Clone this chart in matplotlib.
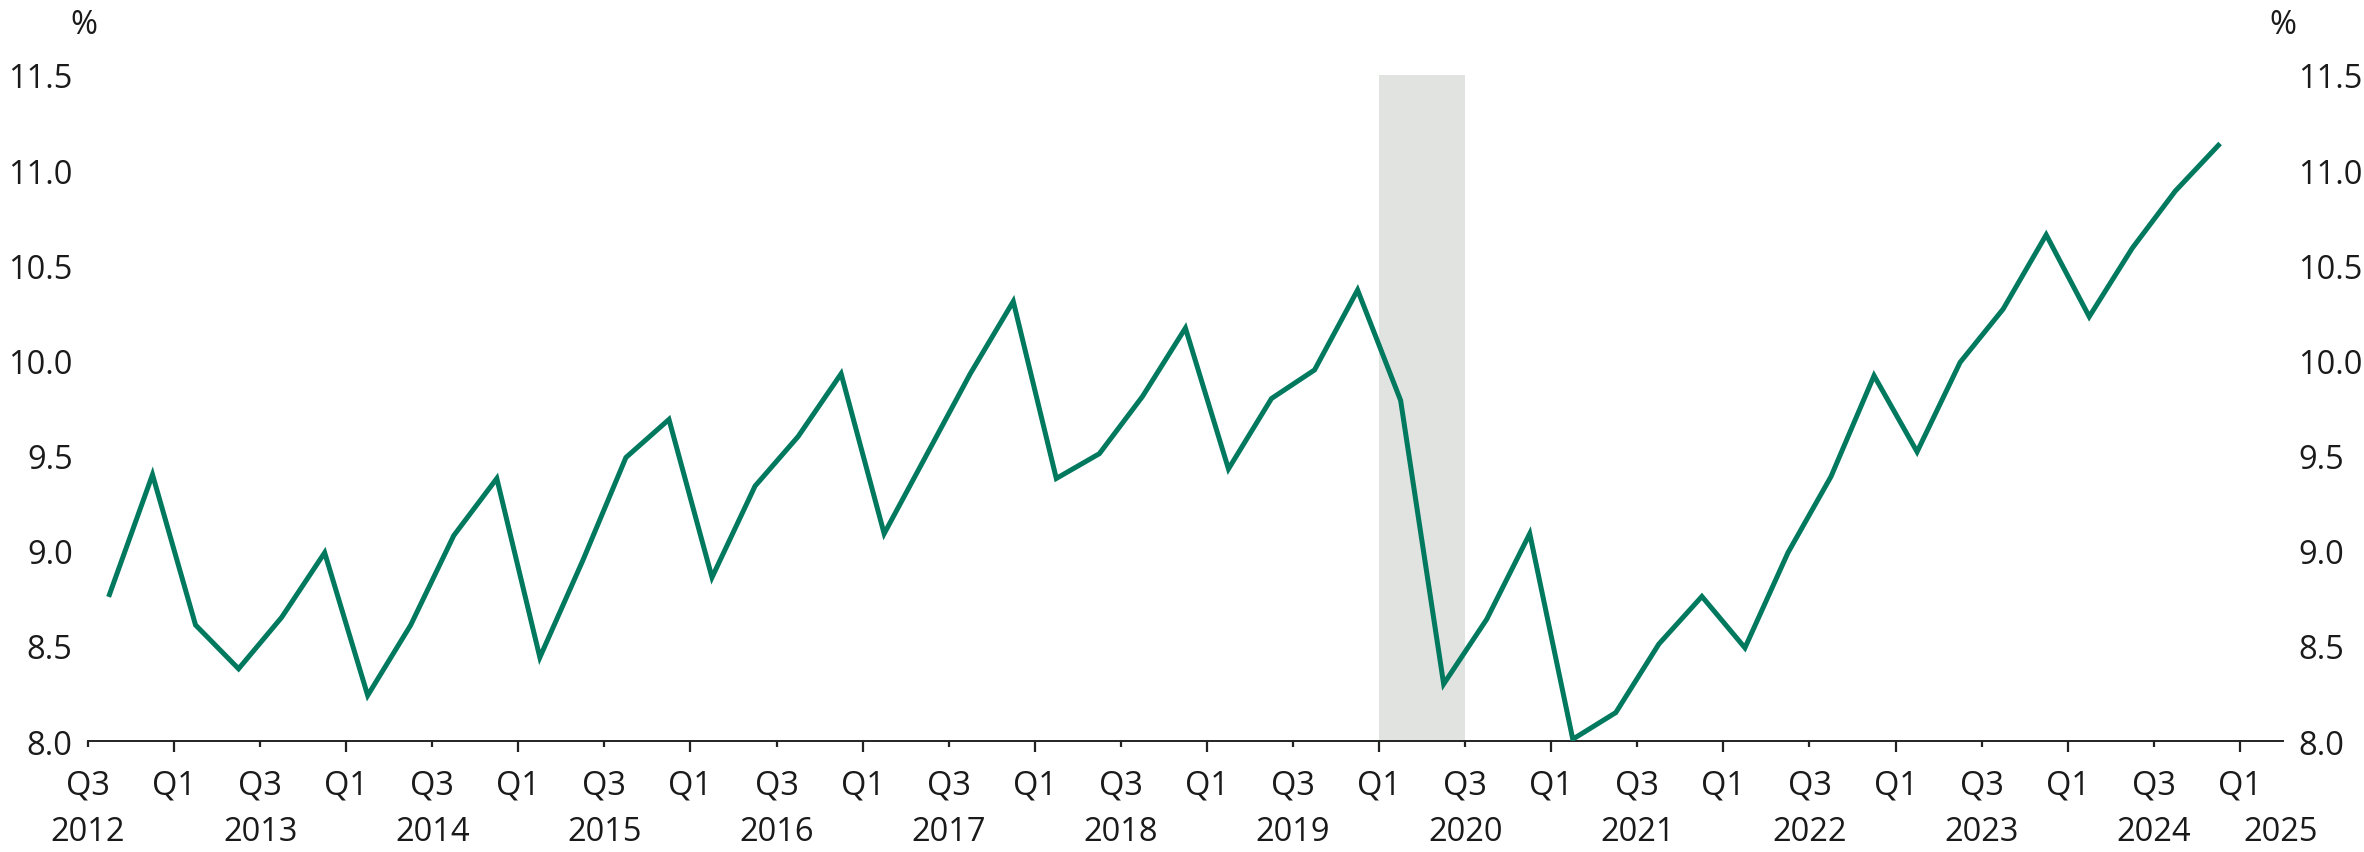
import matplotlib
matplotlib.use("Agg")
import matplotlib.pyplot as plt
import matplotlib.transforms as mtransforms

plt.rcParams['font.family'] = ['Open Sans', 'DejaVu Sans']

# Quarterly values, Q3 2012 .. Q4 2024 (%)
values = [
    8.77, 9.40,                      # 2012 Q3-Q4
    8.61, 8.38, 8.65, 8.99,          # 2013
    8.24, 8.61, 9.08, 9.38,          # 2014
    8.44, 8.95, 9.49, 9.69,          # 2015
    8.86, 9.34, 9.60, 9.93,          # 2016
    9.09, 9.51, 9.93, 10.31,         # 2017
    9.38, 9.51, 9.81, 10.17,         # 2018
    9.43, 9.80, 9.95, 10.37,         # 2019
    9.79, 8.30, 8.64, 9.09,          # 2020
    8.01, 8.15, 8.51, 8.76,          # 2021
    8.49, 8.99, 9.39, 9.92,          # 2022
    9.52, 9.99, 10.27, 10.66,        # 2023
    10.23, 10.59, 10.89, 11.13,      # 2024
]
quarter_labels = ['Q3', 'Q1'] * 13
year_labels = [str(y) for y in range(2012, 2026)]
shade_start, shade_end = 30, 32   # Q1 2020 .. Q3 2020 (quarters from Q3 2012)
y_ticks = [8.0, 8.5, 9.0, 9.5, 10.0, 10.5, 11.0, 11.5]

GREEN = '#00795e'
GREY = '#e1e3e1'
FS = 23.5

fig = plt.figure(figsize=(23.64, 8.53), dpi=100)
ax = fig.add_axes([0.0372, 0.130, 0.9285, 0.781])

xs = [i + 0.5 for i in range(len(values))]
ax.axvspan(shade_start, shade_end, ymin=0, ymax=1, color=GREY, lw=0, zorder=0)
ax.plot(xs, values, color=GREEN, lw=3.6, solid_joinstyle='miter', zorder=3)

ax.set_xlim(0, 51)
ax.set_ylim(8.0, 11.5)

for s in ['top', 'left', 'right']:
    ax.spines[s].set_visible(False)
ax.spines['bottom'].set_linewidth(1.4)
ax.spines['bottom'].set_color('#222222')

# x ticks: major (Q1, long), minor (Q3, short)
q_pos = list(range(0, 51, 2))
major = [p for p, l in zip(q_pos, quarter_labels) if l == 'Q1']
minor = [p for p, l in zip(q_pos, quarter_labels) if l == 'Q3']
ax.set_xticks(major)
ax.set_xticks(minor, minor=True)
ax.set_xticklabels([])
ax.tick_params(axis='x', which='major', length=8, width=1.6, color='#222222')
ax.tick_params(axis='x', which='minor', length=4, width=1.6, color='#222222')

trans = mtransforms.blended_transform_factory(ax.transData, ax.transAxes)
for p, l in zip(q_pos, quarter_labels):
    ax.text(p, -0.066, l, transform=trans, ha='center', va='center', fontsize=FS, color='#1a1a1a')
for i, y in enumerate(year_labels):
    xp = 4 * i if i < len(year_labels) - 1 else 50.95
    ax.text(xp, -0.136, y, transform=trans, ha='center', va='center', fontsize=FS, color='#1a1a1a')

# y ticks on both sides, no tick marks
ax.set_yticks(y_ticks)
ax.set_yticklabels([f'{v:.1f}' for v in y_ticks])
ax.tick_params(axis='y', which='both', length=0, labelsize=FS, labelcolor='#1a1a1a',
               left=True, right=True, labelleft=True, labelright=True, pad=11)

ax.text(-0.002, 1.075, '%', transform=ax.transAxes, ha='center', va='center', fontsize=FS, color='#1a1a1a')
ax.text(1.0, 1.075, '%', transform=ax.transAxes, ha='center', va='center', fontsize=FS, color='#1a1a1a')

fig.savefig('out.png', dpi=100, facecolor='white')
